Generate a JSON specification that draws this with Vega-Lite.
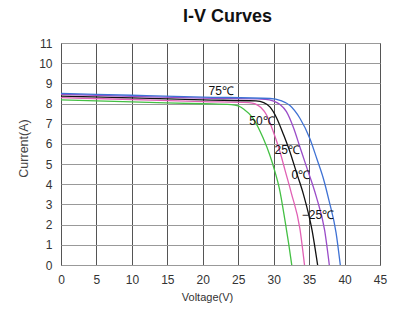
{
  "$schema": "https://vega.github.io/schema/vega-lite/v6.json",
  "autosize": "none",
  "padding": {"left": 61, "top": 43, "right": 16, "bottom": 48},
  "width": 319,
  "height": 222,
  "background": "white",
  "title": {"text": "I-V Curves", "fontSize": 18, "font": "Liberation Sans", "fontWeight": "bold", "color": "#111", "anchor": "middle", "offset": 11, "dx": 7},
  "config": {
    "view": {"stroke": "#555", "strokeWidth": 1},
    "font": "Liberation Sans",
    "axis": {"labelOverlap": false, "labelBound": false}
  },
  "datasets": {
    "curves": [
      {"series": "75", "V": 0, "I": 8.18}, {"series": "75", "V": 10, "I": 8.08}, {"series": "75", "V": 20, "I": 7.99}, {"series": "75", "V": 24.0, "I": 7.95},
      {"series": "75", "V": 25.0, "I": 7.88}, {"series": "75", "V": 25.8, "I": 7.72}, {"series": "75", "V": 27.1, "I": 7.27}, {"series": "75", "V": 28.5, "I": 6.3}, {"series": "75", "V": 29.5, "I": 5.4},
      {"series": "75", "V": 30.2, "I": 4.6}, {"series": "75", "V": 30.8, "I": 3.8}, {"series": "75", "V": 31.6, "I": 2.2}, {"series": "75", "V": 32.1, "I": 1.1}, {"series": "75", "V": 32.55, "I": 0},
      {"series": "50", "V": 0, "I": 8.29}, {"series": "50", "V": 10, "I": 8.2}, {"series": "50", "V": 20, "I": 8.1}, {"series": "50", "V": 26.5, "I": 8.05}, {"series": "50", "V": 27.4, "I": 7.98},
      {"series": "50", "V": 28.2, "I": 7.8}, {"series": "50", "V": 29.0, "I": 7.43}, {"series": "50", "V": 29.9, "I": 6.65}, {"series": "50", "V": 30.9, "I": 5.6},
      {"series": "50", "V": 31.6, "I": 4.7}, {"series": "50", "V": 32.5, "I": 3.55}, {"series": "50", "V": 33.7, "I": 1.8}, {"series": "50", "V": 34.35, "I": 0},
      {"series": "25", "V": 0, "I": 8.37}, {"series": "25", "V": 10, "I": 8.28}, {"series": "25", "V": 20, "I": 8.18}, {"series": "25", "V": 27.5, "I": 8.13}, {"series": "25", "V": 28.6, "I": 8.05},
      {"series": "25", "V": 29.5, "I": 7.82}, {"series": "25", "V": 30.4, "I": 7.3}, {"series": "25", "V": 31.4, "I": 6.45}, {"series": "25", "V": 32.3, "I": 5.6},
      {"series": "25", "V": 33.2, "I": 4.6}, {"series": "25", "V": 34.2, "I": 3.5}, {"series": "25", "V": 35.4, "I": 1.75}, {"series": "25", "V": 36.2, "I": 0},
      {"series": "0", "V": 0, "I": 8.46}, {"series": "0", "V": 10, "I": 8.36}, {"series": "0", "V": 20, "I": 8.27}, {"series": "0", "V": 28.8, "I": 8.21}, {"series": "0", "V": 30.0, "I": 8.12},
      {"series": "0", "V": 30.9, "I": 7.95}, {"series": "0", "V": 31.8, "I": 7.6}, {"series": "0", "V": 32.8, "I": 6.8}, {"series": "0", "V": 33.7, "I": 5.85},
      {"series": "0", "V": 34.6, "I": 4.9}, {"series": "0", "V": 36.0, "I": 3.4}, {"series": "0", "V": 37.2, "I": 1.7}, {"series": "0", "V": 37.85, "I": 0},
      {"series": "-25", "V": 0, "I": 8.5}, {"series": "-25", "V": 10, "I": 8.41}, {"series": "-25", "V": 20, "I": 8.32}, {"series": "-25", "V": 29.5, "I": 8.25}, {"series": "-25", "V": 31.0, "I": 8.15},
      {"series": "-25", "V": 32.3, "I": 7.9}, {"series": "-25", "V": 33.7, "I": 7.27}, {"series": "-25", "V": 35.1, "I": 6.27}, {"series": "-25", "V": 36.1, "I": 5.25},
      {"series": "-25", "V": 37.0, "I": 4.3}, {"series": "-25", "V": 37.8, "I": 3.2}, {"series": "-25", "V": 38.8, "I": 1.6}, {"series": "-25", "V": 39.4, "I": 0}
    ],
    "labels": [
      {"label": "75℃", "V": 22.6, "I": 8.62},
      {"label": "50℃", "V": 28.35, "I": 7.14},
      {"label": "25℃", "V": 31.9, "I": 5.69},
      {"label": "0℃", "V": 33.85, "I": 4.46},
      {"label": "−25℃", "V": 36.25, "I": 2.5}
    ]
  },
  "encoding": {
    "x": {
      "field": "V", "type": "quantitative",
      "scale": {"domain": [0, 45], "nice": false, "zero": false},
      "axis": {
        "title": "Voltage(V)", "tickCount": 9, "tickMinStep": 5,
        "grid": true, "gridColor": "#555", "gridWidth": 1, "gridOpacity": 1,
        "domain": false, "ticks": false, "labelPadding": 9,
        "labelFontSize": 12, "labelColor": "#333", "labelFont": "Liberation Sans",
        "titleFontSize": 11, "titleFontWeight": "normal", "titleColor": "#333", "titleFont": "Liberation Sans",
        "titlePadding": 6, "titleX": 146, "labelFlush": false
      }
    },
    "y": {
      "field": "I", "type": "quantitative",
      "scale": {"domain": [0, 11], "nice": false},
      "axis": {
        "title": "Current(A)", "tickCount": 11, "tickMinStep": 1,
        "grid": true, "gridColor": "#999", "gridWidth": 1, "gridOpacity": 1,
        "domain": false, "ticks": false, "labelPadding": 9,
        "labelFontSize": 12, "labelColor": "#333", "labelFont": "Liberation Sans",
        "titleFontSize": 12.5, "titleFontWeight": "normal", "titleColor": "#444", "titleFont": "Liberation Sans",
        "titlePadding": 8, "titleY": 105, "labelFlush": false
      }
    }
  },
  "layer": [
    {
      "data": {"name": "curves"},
      "mark": {"type": "line", "interpolate": "monotone", "strokeWidth": 1.3, "clip": true},
      "encoding": {
        "color": {
          "field": "series", "type": "nominal",
          "scale": {"domain": ["75", "50", "25", "0", "-25"], "range": ["#44c044", "#e060b4", "#111111", "#9a4cc8", "#3f72d4"]},
          "legend": null
        },
        "order": {"field": "V", "type": "quantitative"}
      }
    },
    {
      "data": {"name": "labels"},
      "mark": {"type": "text", "font": "Liberation Sans", "fontSize": 12, "color": "#111", "align": "center", "baseline": "middle"},
      "encoding": {
        "text": {"field": "label", "type": "nominal"}
      }
    }
  ]
}
